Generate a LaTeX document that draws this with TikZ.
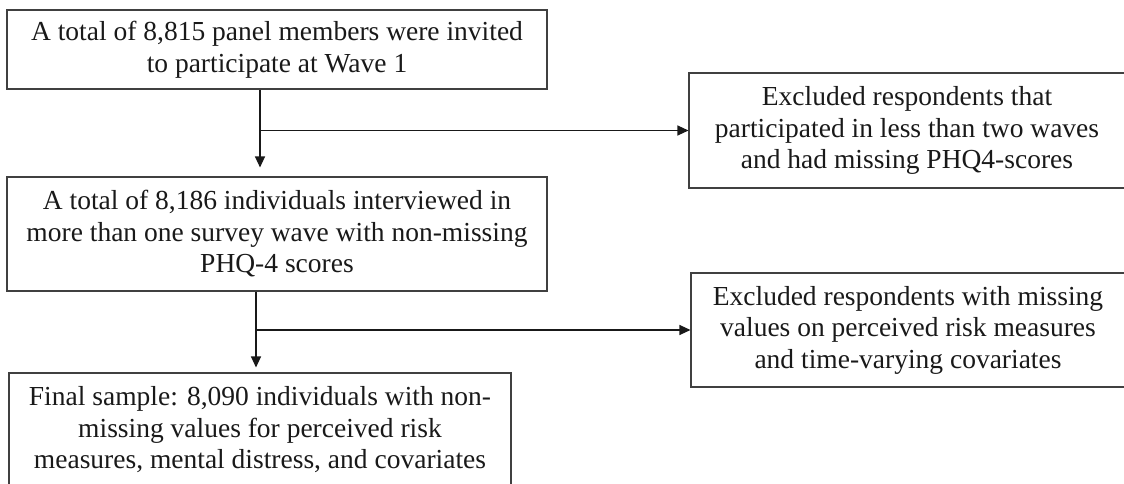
\documentclass[tikz,border=0pt]{standalone}
\usepackage{fontspec}
\setmainfont{Liberation Serif}
\usetikzlibrary{arrows.meta}
\begin{document}
\begin{tikzpicture}[x=1pt,y=-1pt,
  flowbox/.style={draw=black!75,line width=1.1pt,rectangle,inner sep=0pt,align=center,
    font=\fontsize{27.5}{31.5}\selectfont,text=black!90},
  conn/.style={line width=1.2pt,draw=black!90,-{Triangle[length=11pt,width=10pt]}}]
\useasboundingbox (0,0) rectangle (1124,484);
\clip (0,0) rectangle (1124,484);
\node[flowbox,minimum width=540pt,minimum height=79pt] (b1) at (277,49.5)
  {A total of 8,815 panel members were invited\\to participate at Wave 1};
\node[flowbox,minimum width=540pt,minimum height=114pt] (b2) at (277,234)
  {A total of 8,186 individuals interviewed in\\more than one survey wave with non-missing\\PHQ-4 scores};
\node[flowbox,minimum width=502pt,minimum height=114pt] (b3) at (260,430)
  {Final sample: 8,090 individuals with non-\\missing values for perceived risk\\measures, mental distress, and covariates};
\node[flowbox,minimum width=436pt,minimum height=115pt] (b4) at (907,130.5)
  {Excluded respondents that\\participated in less than two waves\\and had missing PHQ4-scores};
\node[flowbox,minimum width=434pt,minimum height=114pt] (b5) at (908,330)
  {Excluded respondents with missing\\values on perceived risk measures\\and time-varying covariates};
\coordinate (c1) at (260,0);
\coordinate (c2) at (256,0);
\draw[conn,shorten >=9pt] (b1.south -| c1) -- (b2.north -| c1);
\draw[conn] (c1 |- b4.west) -- (b4.west);
\draw[conn,shorten >=5pt] (b2.south -| c2) -- (b3.north -| c2);
\draw[conn] (c2 |- b5.west) -- (b5.west);
\end{tikzpicture}
\end{document}
